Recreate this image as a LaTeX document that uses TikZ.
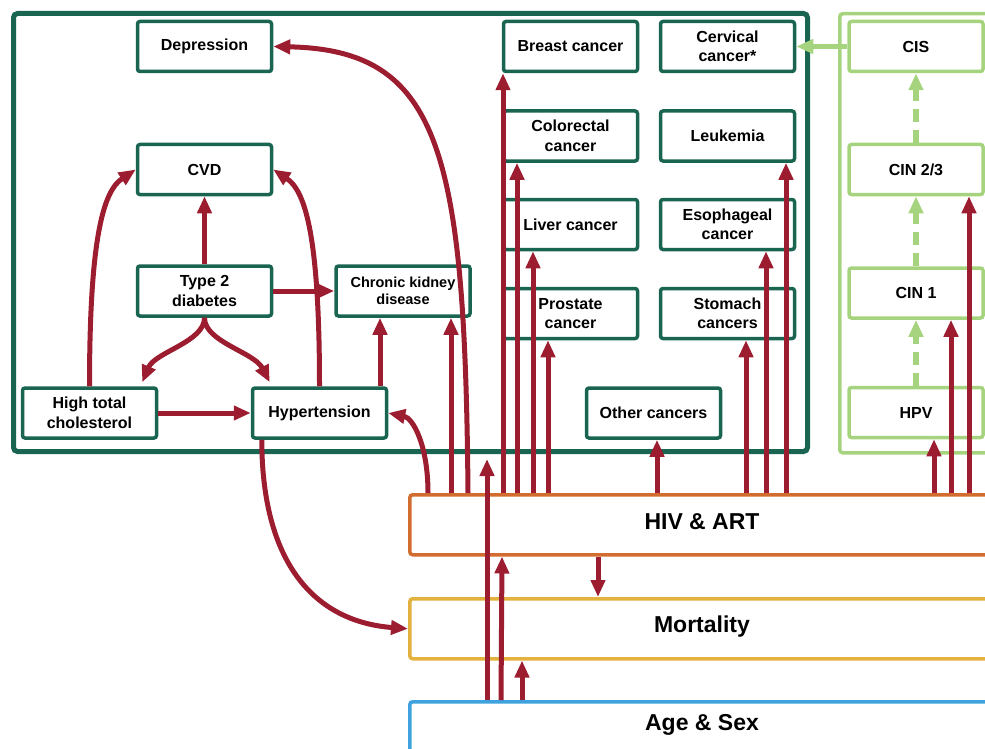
\documentclass[tikz,border=0pt]{standalone}
\usepackage{fontspec}
\setmainfont{Liberation Sans}
\usetikzlibrary{arrows.meta,calc}
\definecolor{dg}{HTML}{1A6452}
\definecolor{rd}{HTML}{9C1C30}
\definecolor{lg}{HTML}{A6D47E}
\definecolor{orng}{HTML}{D36D2F}
\definecolor{yel}{HTML}{E3B23E}
\definecolor{blu}{HTML}{3DA2DD}
\begin{document}
\begin{tikzpicture}[x=1pt,y=-1pt,
  box/.style={draw=dg, line width=3.5pt, rounded corners=2.5pt, minimum width=134pt, minimum height=50pt, align=center, inner sep=1pt, font=\bfseries\fontsize{16}{19.5}\selectfont, fill=white},
  cinbox/.style={box, draw=lg},
  rarrow/.style={draw=rd, line width=5pt, -{Triangle[length=17pt,width=14pt]}},
  garrow/.style={draw=lg, line width=5.5pt, -{Triangle[length=17pt,width=14pt]}},
  band/.style={draw=#1, line width=3.5pt, rounded corners=3pt, minimum width=600pt, minimum height=60pt, anchor=north west, fill=white},
  bandtext/.style={font=\bfseries\fontsize{23}{26}\selectfont, anchor=base}
]
\useasboundingbox (0,0) rectangle (985,749);
\clip (0,0) rectangle (985,749);

% frames
\node[draw=dg, line width=5pt, rounded corners=4pt, minimum width=794pt, minimum height=438pt, anchor=north west, inner sep=0pt] (comorb) at (11,11) {};
\node[draw=lg, line width=3.5pt, rounded corners=3pt, minimum width=180pt, minimum height=439pt, anchor=north west, inner sep=0pt] (cinframe) at (838,12) {};

% bands
\node[band=orng] (hiv) at (408,493) {};
\node[bandtext] at (702,529.5) {HIV \& ART};
\node[band=yel] (mort) at (408,597) {};
\node[bandtext] at (702,632.5) {Mortality};
\node[band=blu, minimum height=80pt] (age) at (408,700) {};
\node[bandtext] at (702,730.5) {Age \& Sex};

% comorbidity boxes
\node[box] (dep) at (204.5,46.5) {Depression};
\node[box] (cvd) at (204.5,169.5) {CVD};
\node[box] (t2d) at (204.5,291) {Type 2\\diabetes};
\node[box, font=\bfseries\fontsize{14.5}{17.5}\selectfont] (ckd) at (403,291) {Chronic kidney\\disease};
\node[box] (htc) at (89.5,413) {High total\\cholesterol};
\node[box] (hyp) at (319.5,413) {Hypertension};

\node[box] (breast) at (570.5,46.5) {Breast cancer};
\node[box] (cerv) at (727.5,46.5) {Cervical\\cancer*};
\node[box] (colo) at (570.5,136) {Colorectal\\cancer};
\node[box] (leuk) at (727.5,136) {Leukemia};
\node[box] (liver) at (570.5,224.5) {Liver cancer};
\node[box] (eso) at (727.5,224.5) {Esophageal\\cancer};
\node[box] (pros) at (570.5,313.5) {Prostate\\cancer};
\node[box] (stom) at (727.5,313.5) {Stomach\\cancers};
\node[box] (other) at (653.5,413) {Other cancers};

\node[cinbox] (cis) at (916,46.5) {CIS};
\node[cinbox] (cin23) at (916,169.5) {CIN 2/3};
\node[cinbox] (cin1) at (916,293) {CIN 1};
\node[cinbox] (hpv) at (916,412.5) {HPV};

% green arrows
\draw[garrow] (cis.west) -- (cerv.east);
\draw[garrow, dash pattern=on 13pt off 8pt] (hpv.north) -- (cin1.south);
\draw[garrow, dash pattern=on 13pt off 8pt] (cin1.north) -- (cin23.south);
\draw[garrow, dash pattern=on 13pt off 8pt] (cin23.north) -- (cis.south);

% left cluster
\draw[rarrow] (t2d.north) -- (cvd.south);
\draw[rarrow] (htc.north) .. controls (89.5,230) and (105,190) .. (cvd.west);
\draw[rarrow] (hyp.north) .. controls (319.5,230) and (304,190) .. (cvd.east);
\draw[rarrow] (t2d.east) -- (ckd.west);
\draw[rarrow] (t2d.south) .. controls (204.5,342) and (155,352) .. ($(htc.north east)+(-16,-4)$);
\draw[rarrow] (t2d.south) .. controls (204.5,342) and (254,352) .. ($(hyp.north west)+(19,-4)$);
\draw[rarrow] (htc.east) -- (hyp.west);
\draw[rarrow] (380,0 |- hyp.north) -- (380,0 |- ckd.south);
\draw[rarrow] ($(hyp.south west)+(11,0)$) .. controls (262,570) and (320,622) .. (mort.west);

% from HIV & ART
\draw[rarrow] (428,0 |- hiv.north) .. controls (428,445) and (413,418) .. (hyp.east);
\draw[rarrow] (451,0 |- hiv.north) -- (451,0 |- ckd.south);
\draw[rarrow] (468,0 |- hiv.north) .. controls (465,150) and (440,50) .. (dep.east);
\draw[rarrow] (503,0 |- hiv.north) -- (503,0 |- breast.south);
\draw[rarrow] (517,0 |- hiv.north) -- (517,0 |- colo.south);
\draw[rarrow] (533,0 |- hiv.north) -- (533,0 |- liver.south);
\draw[rarrow] (548,0 |- hiv.north) -- (548,0 |- pros.south);
\draw[rarrow] (657,0 |- hiv.north) -- (657,0 |- other.south);
\draw[rarrow] (746,0 |- hiv.north) -- (746,0 |- stom.south);
\draw[rarrow] (766,0 |- hiv.north) -- (766,0 |- eso.south);
\draw[rarrow] (786,0 |- hiv.north) -- (786,0 |- leuk.south);
\draw[rarrow] (934,0 |- hiv.north) -- (934,0 |- hpv.south);
\draw[rarrow] (951,0 |- hiv.north) -- (951,0 |- cin1.south);
\draw[rarrow] (969,0 |- hiv.north) -- (969,0 |- cin23.south);
\draw[rarrow] (598,0 |- hiv.south) -- (598,0 |- mort.north);

% from Age & Sex
\draw[rarrow] (487,0 |- age.north) -- ($(487,0 |- comorb.south)+(0,5)$);
\draw[rarrow] (501,0 |- age.north) -- (502,0 |- hiv.south);
\draw[rarrow] (522,0 |- age.north) -- (522,0 |- mort.south);
\end{tikzpicture}
\end{document}
